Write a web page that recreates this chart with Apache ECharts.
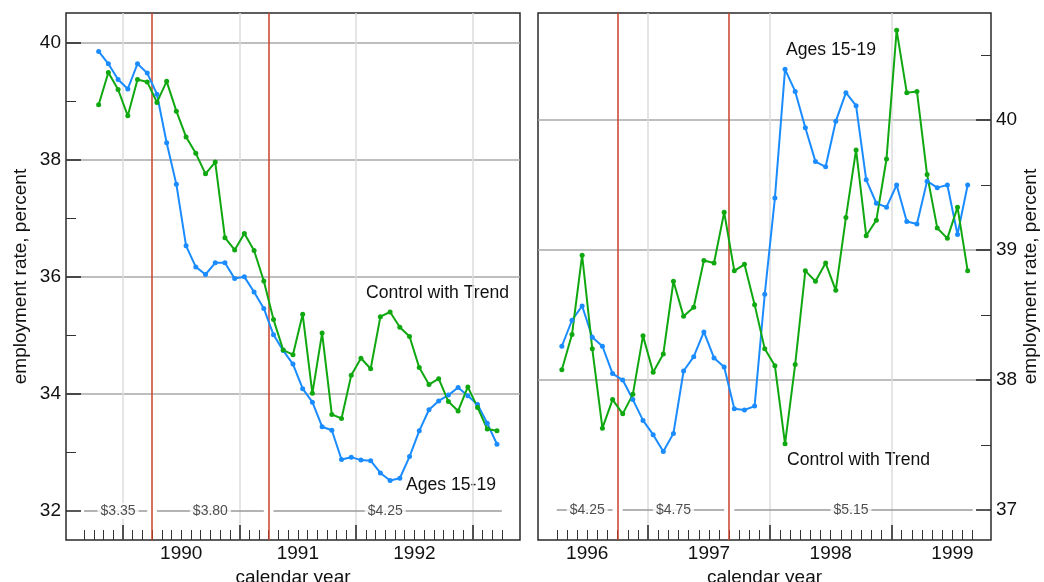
<!DOCTYPE html>
<html>
<head>
<meta charset="utf-8">
<title>Teen employment around minimum wage increases</title>
<script src="https://cdn.jsdelivr.net/npm/echarts@6/dist/echarts.min.js"></script>
<style>
  html, body { margin: 0; padding: 0; background: #fff; }
  #chart { width: 1044px; height: 582px; }
</style>
</head>
<body>
<div id="chart"></div>
<script>
// monthly employment rates, percent
// left panel starts Oct 1989, right panel starts Apr 1996
const blueLeft = [39.85, 39.64, 39.37, 39.21, 39.64, 39.48, 39.12, 38.29, 37.58, 36.53,
  36.17, 36.04, 36.24, 36.24, 35.97, 36.00, 35.74, 35.46, 35.01, 34.74,
  34.51, 34.09, 33.86, 33.44, 33.38, 32.88, 32.92, 32.87, 32.86, 32.65,
  32.52, 32.56, 32.93, 33.37, 33.73, 33.88, 33.98, 34.11, 33.97, 33.82,
  33.50, 33.14];
const greenLeft = [38.94, 39.49, 39.20, 38.75, 39.37, 39.33, 38.98, 39.34, 38.83, 38.39,
  38.11, 37.76, 37.96, 36.67, 36.46, 36.74, 36.45, 35.93, 35.27, 34.75,
  34.67, 35.36, 34.01, 35.04, 33.65, 33.58, 34.32, 34.61, 34.43, 35.32,
  35.40, 35.14, 34.98, 34.45, 34.16, 34.26, 33.87, 33.71, 34.12, 33.77,
  33.40, 33.37];
const blueRight = [38.26, 38.46, 38.57, 38.33, 38.26, 38.05, 38.00, 37.85, 37.69, 37.58,
  37.45, 37.59, 38.07, 38.18, 38.37, 38.17, 38.10, 37.78, 37.77, 37.80,
  38.66, 39.40, 40.39, 40.22, 39.94, 39.68, 39.64, 39.99, 40.21, 40.11,
  39.54, 39.36, 39.33, 39.50, 39.22, 39.20, 39.53, 39.48, 39.50, 39.12,
  39.50];
const greenRight = [38.08, 38.35, 38.96, 38.24, 37.63, 37.85, 37.74, 37.89, 38.34, 38.06,
  38.20, 38.76, 38.49, 38.56, 38.92, 38.90, 39.29, 38.84, 38.89, 38.58,
  38.24, 38.11, 37.51, 38.12, 38.84, 38.76, 38.90, 38.69, 39.25, 39.77,
  39.11, 39.23, 39.70, 40.69, 40.21, 40.22, 39.58, 39.17, 39.09, 39.33,
  38.84];

// x is counted in months from January of the base year
const baseLeft = 1989, baseRight = 1996;
const startLeft = 9, startRight = 3;
const yearsLeft = [1990, 1991, 1992];
const yearsRight = [1996, 1997, 1998, 1999];
const wageLeft = ['$3.35', '$3.80', '$4.25'];
const wageBoundsLeft = [8, 15, 27, 51];
const wageRight = ['$4.25', '$4.75', '$5.15'];
const wageBoundsRight = [3, 9, 20, 44];
const yMajorLeft = [32, 34, 36, 38, 40];
const yMinorLeft = [33, 35, 37, 39];
const yMajorRight = [37, 38, 39, 40];
const yMinorRight = [37.5, 38.5, 39.5, 40.5];

const BLUE = '#1a8cff', GREEN = '#10a810', RED = '#c8402a';
const FONT = '"Liberation Sans", Arial, Helvetica, sans-serif';

function range(a, b) {
  const r = [];
  for (let m = a; m <= b; m++) r.push(m);
  return r;
}

function xAxes(grid, base, min, max, bounds, years) {
  const months = range(bounds[0], bounds[bounds.length - 1]);
  return [
    {
      type: 'value', gridIndex: grid, position: 'bottom', min: min, max: max,
      axisLine: { show: false }, splitLine: { show: false },
      axisTick: { inside: true, length: 10, customValues: months.filter(m => m % 12 !== 0),
        lineStyle: { color: '#333', width: 1 } },
      axisLabel: { customValues: years.map(y => (y - base) * 12 + 6),
        formatter: v => String(base + Math.floor(v / 12)),
        margin: 4, fontSize: 19, color: '#111', fontFamily: FONT },
      name: 'calendar year', nameLocation: 'middle', nameGap: 22,
      nameTextStyle: { fontSize: 19, color: '#111', fontFamily: FONT }
    },
    {
      type: 'value', gridIndex: grid, position: 'bottom', min: min, max: max,
      axisLine: { show: false }, axisLabel: { show: false },
      axisTick: { inside: true, length: 15, customValues: months.filter(m => m % 12 === 0),
        lineStyle: { color: '#222', width: 1.5 } },
      splitLine: { show: true, lineStyle: { color: '#dcdcdc', width: 1.5 } }
    }
  ];
}

function yAxes(grid, pos, min, max, major, minor, nameGap) {
  const lines = major.slice(1);
  return [
    {
      type: 'value', gridIndex: grid, position: pos, min: min, max: max,
      axisLine: { show: false }, splitLine: { show: false },
      axisTick: { inside: true, length: 15, customValues: major, lineStyle: { color: '#222', width: 1.5 } },
      axisLabel: { customValues: major, margin: 5, fontSize: 19, color: '#111', fontFamily: FONT },
      name: 'employment rate, percent', nameLocation: 'middle', nameRotate: 90, nameGap: nameGap,
      nameTextStyle: { fontSize: 19, color: '#111', fontFamily: FONT }
    },
    {
      type: 'value', gridIndex: grid, position: pos, min: min, max: max,
      axisLine: { show: false }, splitLine: { show: false }, axisLabel: { show: false },
      axisTick: { inside: true, length: 10, customValues: minor, lineStyle: { color: '#333', width: 1 } }
    },
    {
      type: 'value', gridIndex: grid, position: pos, min: min, max: max,
      axisLine: { show: false }, axisLabel: { show: false },
      axisTick: { show: false, customValues: lines },
      splitLine: { show: true, lineStyle: { color: '#a8a8a8', width: 1.5 } }
    }
  ];
}

function rateSeries(xi, yi, start, values, color) {
  return {
    type: 'line', xAxisIndex: xi, yAxisIndex: yi,
    data: values.map((v, i) => [start + i + 0.5, v]),
    symbol: 'circle', symbolSize: 5, showSymbol: true,
    lineStyle: { color: color, width: 2 }, itemStyle: { color: color },
    z: 5, silent: true
  };
}

function wageSeries(xi, yi, bounds, labels, yv) {
  const out = [];
  labels.forEach((lab, k) => {
    const a = bounds[k] + (k > 0 ? 0.5 : 0);
    const b = bounds[k + 1] - (k < labels.length - 1 ? 0.5 : 0);
    out.push({
      type: 'line', xAxisIndex: xi, yAxisIndex: yi, data: [[a, yv], [b, yv]],
      symbol: 'none', lineStyle: { color: '#9a9a9a', width: 1.5 }, z: 2, silent: true,
      markLine: k === 0 ? {
        symbol: 'none', silent: true, label: { show: false },
        lineStyle: { color: RED, width: 1.5, type: 'solid' },
        data: bounds.slice(1, -1).map(m => ({ xAxis: m }))
      } : undefined
    });
  });
  out.push({
    type: 'scatter', xAxisIndex: xi, yAxisIndex: yi,
    data: labels.map((lab, k) => [(bounds[k] + bounds[k + 1]) / 2, yv]),
    symbolSize: 1, itemStyle: { color: 'rgba(0,0,0,0)' }, z: 3, silent: true,
    label: { show: true, position: 'inside', formatter: p => labels[p.dataIndex],
      backgroundColor: '#fff', padding: [1, 3], fontSize: 14, color: '#222', fontFamily: FONT }
  });
  return out;
}

const chart = echarts.init(document.getElementById('chart'));

const option = {
  animation: false,
  backgroundColor: '#fff',
  grid: [
    { left: 66, top: 13, width: 454, height: 527, outerBoundsMode: 'none', containLabel: false,
      show: true, borderColor: '#2a2a2a', borderWidth: 1.5 },
    { left: 538, top: 13, width: 453, height: 527, outerBoundsMode: 'none', containLabel: false,
      show: true, borderColor: '#2a2a2a', borderWidth: 1.5 }
  ],
  xAxis: [].concat(
    xAxes(0, baseLeft, 6.14, 52.87, wageBoundsLeft, yearsLeft),
    xAxes(1, baseRight, 1.15, 45.8, wageBoundsRight, yearsRight)
  ),
  yAxis: [].concat(
    yAxes(0, 'left', 31.505, 40.507, yMajorLeft, yMinorLeft, 36),
    yAxes(1, 'right', 36.77, 40.823, yMajorRight, yMinorRight, 30)
  ),
  series: [].concat(
    wageSeries(0, 0, wageBoundsLeft, wageLeft, 32),
    wageSeries(2, 3, wageBoundsRight, wageRight, 37),
    [
      rateSeries(0, 0, startLeft, blueLeft, BLUE),
      rateSeries(0, 0, startLeft, greenLeft, GREEN),
      rateSeries(2, 3, startRight, blueRight, BLUE),
      rateSeries(2, 3, startRight, greenRight, GREEN)
    ]
  ),
  graphic: [
    { type: 'text', left: 366, top: 284, style: { text: 'Control with Trend', fontSize: 17.6, fontFamily: FONT, fill: '#111' } },
    { type: 'text', left: 406, top: 476, style: { text: 'Ages 15-19', fontSize: 17.6, fontFamily: FONT, fill: '#111' } },
    { type: 'text', left: 786, top: 41, style: { text: 'Ages 15-19', fontSize: 17.6, fontFamily: FONT, fill: '#111' } },
    { type: 'text', left: 787, top: 451, style: { text: 'Control with Trend', fontSize: 17.6, fontFamily: FONT, fill: '#111' } }
  ]
};

chart.setOption(option);
window.addEventListener('resize', () => chart.resize());
</script>
</body>
</html>
